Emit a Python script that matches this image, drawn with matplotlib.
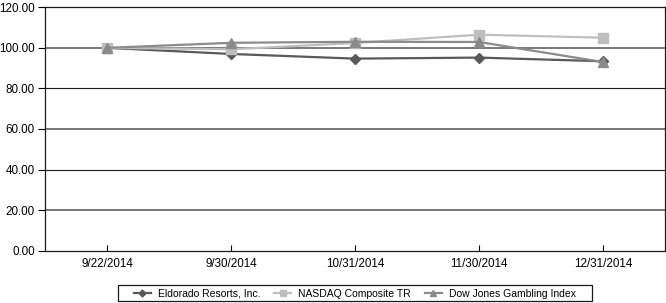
import matplotlib
matplotlib.use("Agg")
import matplotlib.pyplot as plt
from matplotlib.patches import Rectangle

plt.rcParams['font.family'] = ['Liberation Sans', 'DejaVu Sans']

dates = ["9/22/2014", "9/30/2014", "10/31/2014", "11/30/2014", "12/31/2014"]
eldorado = [100.0, 97.0, 94.7, 95.2, 93.4]
nasdaq = [100.0, 99.3, 102.4, 106.5, 105.0]
dow_jones = [100.0, 102.5, 103.0, 102.9, 93.0]
y_ticks = [0, 20, 40, 60, 80, 100, 120]
y_tick_labels = ["%.2f" % v for v in y_ticks]
series_names = ["Eldorado Resorts, Inc.", "NASDAQ Composite TR", "Dow Jones Gambling Index"]

fig = plt.figure(figsize=(6.66, 3.03), dpi=100)
ax = fig.add_axes([45/666, 1-250.7/303, 620/666, (250.7-7.3)/303])

x = list(range(len(dates)))
ax.plot(x, eldorado, color="#595959", lw=1.6, marker="D", ms=5, mec="#595959", label=series_names[0], zorder=3)
ax.plot(x, nasdaq, color="#bebebe", lw=1.6, marker="s", ms=6.5, mec="#bebebe", label=series_names[1], zorder=4)
ax.plot(x, dow_jones, color="#8a8a8a", lw=1.6, marker="^", ms=7, mec="#8a8a8a", label=series_names[2], zorder=5)

ax.set_xlim(-0.5, len(dates) - 0.5)
ax.set_ylim(0, 120)
ax.set_xticks(x)
ax.set_xticklabels(dates)
ax.set_yticks(y_ticks)
ax.set_yticklabels(y_tick_labels)
ax.tick_params(axis="x", direction="in", length=4, width=0.8, pad=5, labelsize=8.4, colors="black")
ax.tick_params(axis="y", direction="out", length=5, width=0.8, pad=2.4, labelsize=8.4, colors="black")

for v in y_ticks[1:-1]:
    if v % 40 == 20:
        ax.axhline(v, color="#6e6e6e", lw=1.3, zorder=1)
    else:
        ax.axhline(v, color="#1a1a1a", lw=0.8, zorder=1)

for s in ax.spines.values():
    s.set_color("#1a1a1a")
    s.set_linewidth(0.9)

leg = ax.legend(loc="center", bbox_to_anchor=(0.5, (1 - 294.0/303 - (1-250.7/303)) / ((250.7-7.3)/303)),
                ncol=3, frameon=False, fontsize=7.5, handlelength=1.6, handletextpad=0.7,
                columnspacing=1.35, borderpad=0.2, markerscale=0.7)

fig.canvas.draw()
bb = leg.get_window_extent()
pad_x, pad_y = 14, 2.5
rect = Rectangle((bb.x0 - pad_x, bb.y0 - pad_y + 3), bb.width + 2*pad_x, bb.height + 2*pad_y - 4,
                 transform=None, fill=False, edgecolor="#1a1a1a", lw=0.9)
fig.patches.append(rect)

fig.savefig("out.png", dpi=100)
